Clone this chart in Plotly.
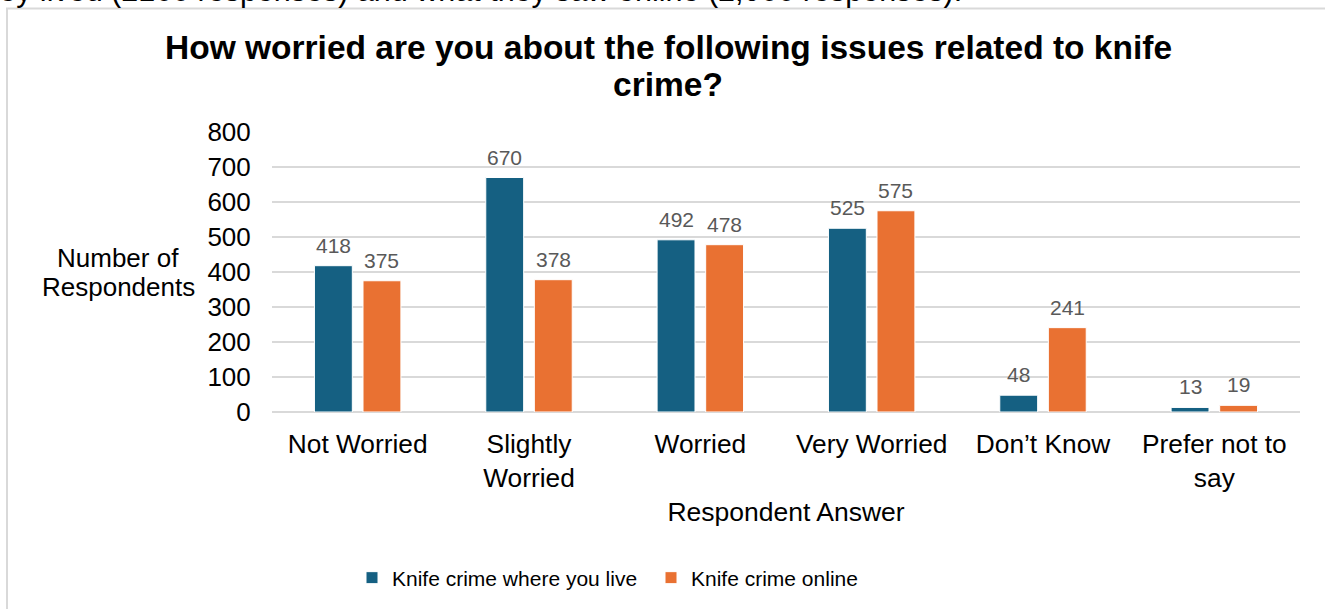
import plotly.graph_objects as go

# Survey answers and respondent counts
categories = ["Not Worried", "Slightly<br>Worried", "Worried", "Very Worried",
              "Don’t Know", "Prefer not to<br>say"]
where_you_live = [418, 670, 492, 525, 48, 13]
online = [375, 378, 478, 575, 241, 19]
series_names = ["Knife crime where you live", "Knife crime online"]
y_ticks = [0, 100, 200, 300, 400, 500, 600, 700, 800]

BLUE = "#156082"
ORANGE = "#E97132"
GRID = "#D9D9D9"
CLEAR = "rgba(0,0,0,0)"
FONT = "Liberation Sans, Arial, sans-serif"

W, H = 1325, 609
L, R, T, B = 272, 25, 132, 196
plot_w = W - L - R
plot_h = H - T - B

fig = go.Figure()
for name, vals, col in [(series_names[0], where_you_live, BLUE),
                        (series_names[1], online, ORANGE)]:
    fig.add_trace(go.Bar(
        x=categories, y=vals, name=name,
        marker=dict(color=col, line=dict(color="white", width=1)),
    ))

# Value labels above each bar
cat_px = plot_w / len(categories)
group_w = cat_px * (1 - 0.433)
offsets = [-group_w / 4, group_w / 4]
for vals, dx in [(where_you_live, offsets[0]), (online, offsets[1])]:
    for c, v in zip(categories, vals):
        fig.add_annotation(
            x=c, y=v, xref="x", yref="y", text=str(v), showarrow=False,
            xshift=dx, yshift=7, yanchor="bottom",
            font=dict(family=FONT, size=21, color="#595959"),
        )


def px_x(p):
    return (p - L) / plot_w


def px_y(p):
    return (H - B - p) / plot_h


def paper_text(text, x, y, size, xanchor="center", yanchor="middle", bold=False):
    fig.add_annotation(
        xref="paper", yref="paper", x=px_x(x), y=px_y(y),
        xanchor=xanchor, yanchor=yanchor, showarrow=False,
        text=f"<b>{text}</b>" if bold else text,
        font=dict(family=FONT, size=size, color="black"),
    )


# Chart frame
fig.add_shape(type="rect", xref="paper", yref="paper",
              x0=px_x(7), x1=px_x(1340), y0=px_y(630), y1=px_y(8),
              line=dict(color=GRID, width=2), fillcolor=CLEAR, layer="below")

# Preceding document text, running off the top edge
paper_text("worried about knife crime where they lived (2166 responses) and what they saw online (2,066 responses).",
           964, 10, 30.5, xanchor="right", yanchor="bottom")

# Chart title (two lines)
paper_text("How worried are you about the following issues related to knife", 668, 47, 33.5, bold=True)
paper_text("crime?", 668, 84, 33.5, bold=True)

# Vertical-axis title, written horizontally
paper_text("Number of", 118, 258, 26)
paper_text("Respondents", 118, 288, 26)

fig.update_layout(
    width=W, height=H,
    margin=dict(l=L, r=R, t=T, b=B),
    paper_bgcolor="white", plot_bgcolor="white",
    barmode="group", bargap=0.433, bargroupgap=0.22,
    font=dict(family=FONT, color="black"),
    xaxis=dict(
        tickfont=dict(family=FONT, size=26.3, color="black"),
        showgrid=False, showline=False,
        ticks="outside", ticklen=8, tickcolor=CLEAR,
        title=dict(text="Respondent Answer", font=dict(family=FONT, size=26.5, color="black"), standoff=10),
    ),
    yaxis=dict(
        range=[0, 800], tickvals=y_ticks,
        tickfont=dict(family=FONT, size=26, color="black"),
        showgrid=True, gridcolor=GRID, gridwidth=1.5,
        zeroline=True, zerolinecolor=GRID, zerolinewidth=1.5,
        ticks="outside", ticklen=15, tickcolor=CLEAR,
    ),
    legend=dict(
        orientation="h", x=px_x(352), xanchor="left", y=px_y(578), yanchor="middle",
        font=dict(family=FONT, size=21, color="black"),
        traceorder="normal", entrywidth=254, entrywidthmode="pixels",
    ),
    showlegend=True,
)

fig.write_html("out.html")
